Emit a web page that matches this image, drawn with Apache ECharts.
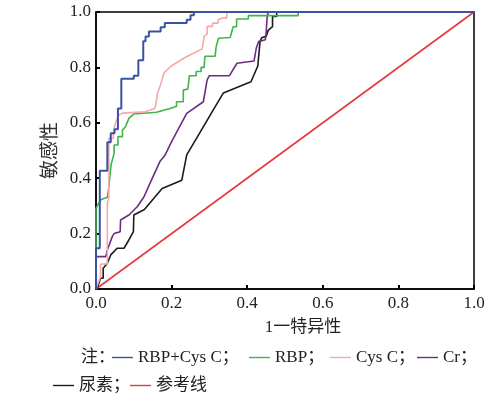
<!DOCTYPE html>
<html>
<head>
<meta charset="utf-8">
<script src="https://cdn.jsdelivr.net/npm/echarts@6/dist/echarts.min.js"></script>
<style>
  html, body { margin: 0; padding: 0; background: #fff; }
  #chart { width: 500px; height: 399px; }
</style>
</head>
<body>
<div id="chart"></div>
<script>
// ROC curves, points are [1 - specificity, sensitivity]
const seriesNames = ['RBP+Cys C', 'RBP', 'Cys C', 'Cr', '尿素', '参考线'];
const seriesColors = ['#3953a4', '#3fb44b', '#f6a9a9', '#6b2d83', '#1c1c1c', '#e8383d'];

const rbpCys = [
  [0, 0], [0, 0.147], [0.01, 0.147], [0.01, 0.427], [0.03, 0.427], [0.03, 0.53],
  [0.039, 0.53], [0.039, 0.562], [0.049, 0.562], [0.049, 0.577], [0.058, 0.577],
  [0.058, 0.652], [0.067, 0.652], [0.067, 0.759], [0.1, 0.759], [0.1, 0.77],
  [0.112, 0.77], [0.112, 0.826], [0.125, 0.826], [0.125, 0.894], [0.131, 0.894],
  [0.131, 0.912], [0.14, 0.912], [0.14, 0.93], [0.171, 0.93], [0.171, 0.945],
  [0.182, 0.945], [0.182, 0.96], [0.24, 0.96], [0.24, 0.972], [0.25, 0.972],
  [0.25, 0.988], [0.259, 0.988], [0.259, 1], [1, 1]
];

const rbp = [
  [0, 0], [0, 0.291], [0.012, 0.321], [0.021, 0.327], [0.03, 0.33], [0.034, 0.369],
  [0.04, 0.45], [0.048, 0.49], [0.048, 0.52], [0.058, 0.52], [0.058, 0.55],
  [0.07, 0.55], [0.07, 0.574], [0.078, 0.586], [0.087, 0.616], [0.1, 0.632],
  [0.16, 0.638], [0.196, 0.652], [0.213, 0.66], [0.213, 0.676], [0.231, 0.676],
  [0.231, 0.718], [0.243, 0.722], [0.247, 0.77], [0.265, 0.77], [0.265, 0.785],
  [0.278, 0.785], [0.278, 0.8], [0.286, 0.8], [0.288, 0.84], [0.315, 0.84],
  [0.318, 0.875], [0.324, 0.905], [0.355, 0.908], [0.359, 0.928], [0.363, 0.947],
  [0.372, 0.947], [0.372, 0.975], [0.403, 0.975], [0.403, 0.987], [0.535, 0.987],
  [0.535, 1], [1, 1]
];

const cysC = [
  [0, 0], [0.005, 0.02], [0.012, 0.044], [0.012, 0.09], [0.03, 0.09], [0.03, 0.309],
  [0.034, 0.33], [0.034, 0.544], [0.046, 0.544], [0.046, 0.562], [0.05, 0.592],
  [0.06, 0.628], [0.07, 0.635], [0.13, 0.64], [0.155, 0.652], [0.158, 0.664],
  [0.163, 0.708], [0.171, 0.738], [0.18, 0.78], [0.198, 0.804], [0.233, 0.834],
  [0.259, 0.852], [0.281, 0.867], [0.286, 0.912], [0.294, 0.92], [0.294, 0.948],
  [0.308, 0.948], [0.308, 0.96], [0.323, 0.96], [0.323, 0.972], [0.334, 0.978],
  [0.346, 0.978], [0.346, 1], [1, 1]
];

const cr = [
  [0, 0], [0, 0.117], [0.026, 0.117], [0.03, 0.141], [0.043, 0.189], [0.048, 0.2],
  [0.064, 0.207], [0.065, 0.249], [0.087, 0.267], [0.109, 0.297], [0.127, 0.333],
  [0.143, 0.382], [0.169, 0.46], [0.183, 0.484], [0.2, 0.532], [0.24, 0.634],
  [0.24, 0.64], [0.284, 0.676], [0.294, 0.755], [0.3, 0.77], [0.353, 0.77],
  [0.373, 0.815], [0.418, 0.823], [0.424, 0.869], [0.43, 0.893], [0.448, 0.9],
  [0.45, 0.922], [0.453, 0.987], [0.456, 1], [1, 1]
];

const urea = [
  [0, 0], [0.005, 0.01], [0.012, 0.039], [0.019, 0.039], [0.019, 0.075], [0.03, 0.093],
  [0.039, 0.123], [0.056, 0.147], [0.074, 0.147], [0.087, 0.177], [0.099, 0.207],
  [0.1, 0.267], [0.128, 0.287], [0.175, 0.363], [0.227, 0.393], [0.24, 0.484],
  [0.26, 0.53], [0.306, 0.637], [0.337, 0.708], [0.366, 0.724], [0.41, 0.748],
  [0.428, 0.805], [0.434, 0.893], [0.438, 0.907], [0.45, 0.912], [0.456, 0.935],
  [0.467, 0.947], [0.467, 0.984], [0.478, 0.984], [0.478, 1], [1, 1]
];

const reference = [[0, 0], [1, 1]];

const allData = [rbpCys, rbp, cysC, cr, urea, reference];

const fontFam = "'Liberation Serif', 'Noto Sans CJK SC', serif";

const chart = echarts.init(document.getElementById('chart'));

// one legend per item so each can sit where it does in the figure
const legendSpots = [
  { left: 112, top: 349 }, { left: 249, top: 349 }, { left: 330, top: 349 },
  { left: 417, top: 349 }, { left: 53, top: 377 }, { left: 130, top: 377 }
];

const legends = seriesNames.map((name, i) => ({
  data: [name],
  left: legendSpots[i].left,
  top: legendSpots[i].top,
  padding: 0,
  icon: 'rect',
  itemWidth: 21,
  itemHeight: 1.4,
  selectedMode: false,
  textStyle: { fontFamily: fontFam, fontSize: 17, color: '#222' },
  formatter: (n) => (n === '参考线' ? n : n + '；'),
}));

// draw order: reference line at the bottom, blue on top
const drawOrder = [5, 4, 3, 1, 2, 0];

chart.setOption({
  animation: false,
  grid: {
    left: 96, right: 26, top: 12, bottom: 110,
    show: true, borderColor: '#000', borderWidth: 1.5,
  },
  legend: legends,
  graphic: [{
    type: 'text',
    left: 81,
    top: 349,
    style: { text: '注：', font: "17px " + fontFam, fill: '#222' },
  }],
  xAxis: {
    type: 'value',
    min: 0, max: 1, interval: 0.2,
    name: '1一特异性',
    nameLocation: 'middle',
    nameGap: 30,
    nameMoveOverlap: false,
    nameTextStyle: { fontFamily: fontFam, fontSize: 17, color: '#222', padding: [0, 0, 0, 36] },
    axisLine: { show: true, lineStyle: { color: '#000', width: 1.5 } },
    axisTick: { show: true, inside: true, length: 4, lineStyle: { color: '#000', width: 2 } },
    axisLabel: {
      margin: 6, fontFamily: fontFam, fontSize: 17, color: '#222',
      formatter: (v) => v.toFixed(1),
    },
    splitLine: { show: false },
  },
  yAxis: {
    type: 'value',
    min: 0, max: 1, interval: 0.2,
    name: '敏感性',
    nameLocation: 'middle',
    nameGap: 35,
    nameRotate: 90,
    nameMoveOverlap: false,
    nameTextStyle: { fontFamily: fontFam, fontSize: 19, color: '#333' },
    axisLine: { show: true, lineStyle: { color: '#000', width: 1.5 } },
    axisTick: { show: true, inside: true, length: 4, lineStyle: { color: '#000', width: 2 } },
    axisLabel: {
      margin: 5, fontFamily: fontFam, fontSize: 17, color: '#222',
      formatter: (v) => v.toFixed(1),
    },
    splitLine: { show: false },
  },
  series: drawOrder.map((i) => ({
    name: seriesNames[i],
    type: 'line',
    data: allData[i],
    showSymbol: false,
    symbol: 'none',
    smooth: false,
    color: seriesColors[i],
    lineStyle: { color: seriesColors[i], width: i === 0 ? 2 : 1.6 },
  })),
});
</script>
</body>
</html>
